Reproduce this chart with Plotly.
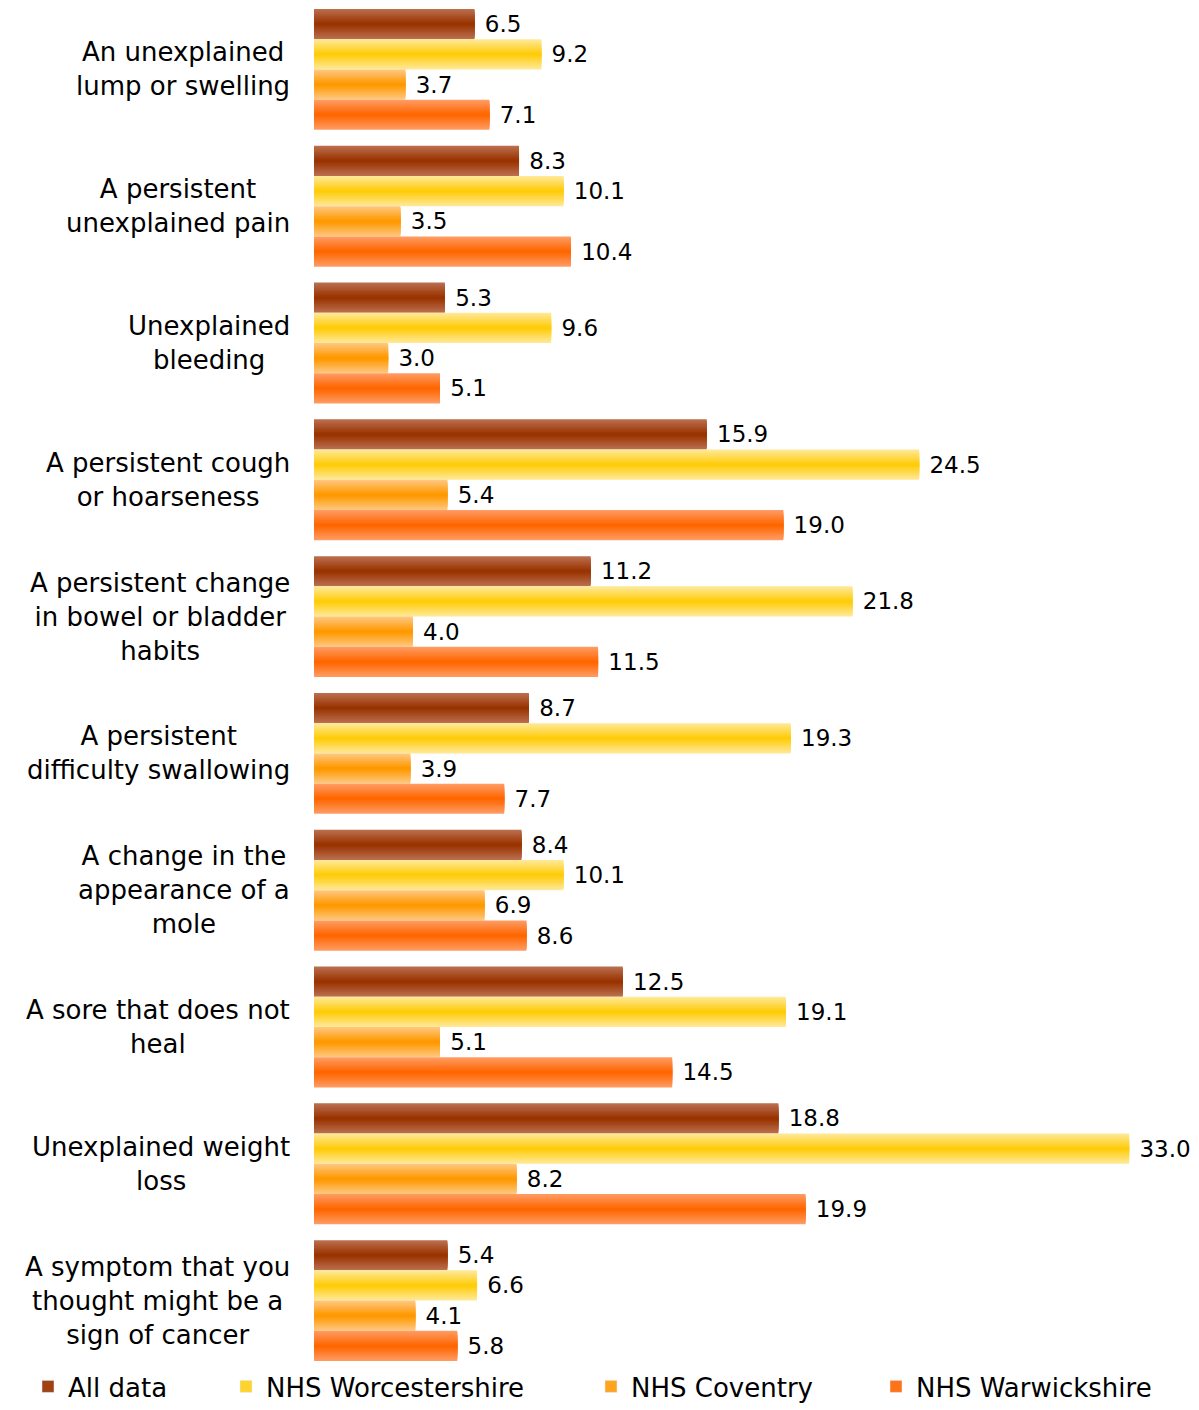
import plotly.graph_objects as go

# Symptom categories (display labels are wrapped onto several lines)
categories = [
    "An unexplained<br>lump or swelling",
    "A persistent<br>unexplained pain",
    "Unexplained<br>bleeding",
    "A persistent cough<br>or hoarseness",
    "A persistent change<br>in bowel or bladder<br>habits",
    "A persistent<br>difficulty swallowing",
    "A change in the<br>appearance of a<br>mole",
    "A sore that does not<br>heal",
    "Unexplained weight<br>loss",
    "A symptom that you<br>thought might be a<br>sign of cancer",
]

series_names = ["All data", "NHS Worcestershire", "NHS Coventry", "NHS Warwickshire"]

all_data = [6.5, 8.3, 5.3, 15.9, 11.2, 8.7, 8.4, 12.5, 18.8, 5.4]
worcestershire = [9.2, 10.1, 9.6, 24.5, 21.8, 19.3, 10.1, 19.1, 33.0, 6.6]
coventry = [3.7, 3.5, 3.0, 5.4, 4.0, 3.9, 6.9, 5.1, 8.2, 4.1]
warwickshire = [7.1, 10.4, 5.1, 19.0, 11.5, 7.7, 8.6, 14.5, 19.9, 5.8]

series_values = [all_data, worcestershire, coventry, warwickshire]

# (edge colour, centre colour) for the shaded bars
series_colors = [
    ((186, 110, 78), (153, 51, 0)),
    ((255, 232, 150), (255, 204, 10)),
    ((255, 198, 125), (255, 153, 0)),
    ((255, 155, 98), (255, 102, 0)),
]

FONT = "DejaVu Sans"
BAR_W = 0.221          # thickness of one bar in category units
N_BANDS = 12           # nested bands used to shade each bar


def mix(c0, c1, t):
    return "rgb(%d,%d,%d)" % tuple(round(a + (b - a) * t) for a, b in zip(c0, c1))


fig = go.Figure()

for s, (name, vals, (edge, centre)) in enumerate(zip(series_names, series_values, series_colors)):
    centre_pos = -1.5 * BAR_W + s * BAR_W
    for k in range(N_BANDS):
        frac = 1 - k / N_BANDS          # band thickness as a fraction of the bar
        w = BAR_W * frac
        t = k / (N_BANDS - 1)
        outer = k == 0
        fig.add_trace(go.Bar(
            y=categories,
            x=vals,
            orientation="h",
            width=w,
            offset=centre_pos - w / 2,
            marker=dict(color=mix(edge, centre, t), line=dict(width=0)),
            text=vals if outer else None,
            texttemplate="\u00a0%{x:.1f}" if outer else None,
            textposition="outside" if outer else "none",
            textfont=dict(family=FONT, size=23, color="#000000"),
            constraintext="none",
            cliponaxis=False,
            showlegend=False,
            hoverinfo="skip" if not outer else None,
            name=name,
        ))

# Legend entries, one legend per series so each sits at its own position
legend_x_px = [28, 226, 591, 876]
plot_left, plot_w = 314, 1199 - 314
plot_bottom, plot_h = 1369, 1368
for s, (name, (edge, centre)) in enumerate(zip(series_names, series_colors)):
    lg = "legend" if s == 0 else "legend%d" % (s + 1)
    fig.add_trace(go.Bar(
        y=[None], x=[None], orientation="h", name=name,
        marker=dict(color=mix(edge, centre, 0.75)),
        showlegend=True, legend=lg,
    ))
    fig.update_layout(**{lg: dict(
        x=(legend_x_px[s] - plot_left) / plot_w, xanchor="left",
        y=(plot_bottom - 1410) / plot_h, yanchor="bottom",
        font=dict(family=FONT, size=26, color="#000000"),
        bgcolor="rgba(0,0,0,0)", borderwidth=0,
    )})

# Category labels, centred lines right-aligned against the bars
for cat in categories:
    fig.add_annotation(
        x=0, xref="paper", xanchor="right", xshift=-22,
        y=cat, yref="y", yanchor="middle",
        text=cat, showarrow=False, align="center",
        font=dict(family=FONT, size=26, color="#000000"),
    )

fig.update_layout(
    width=1199, height=1410,
    margin=dict(l=314, r=0, t=1, b=41, autoexpand=False),
    barmode="overlay",
    plot_bgcolor="white", paper_bgcolor="white",
    xaxis=dict(range=[0, 885 / 24.7], visible=False, fixedrange=True),
    yaxis=dict(autorange=False, range=[9.5, -0.5], categoryorder="array",
               categoryarray=categories, showticklabels=False, showgrid=False,
               zeroline=False, showline=False, ticks=""),
    font=dict(family=FONT),
)

fig.write_html("out.html")
